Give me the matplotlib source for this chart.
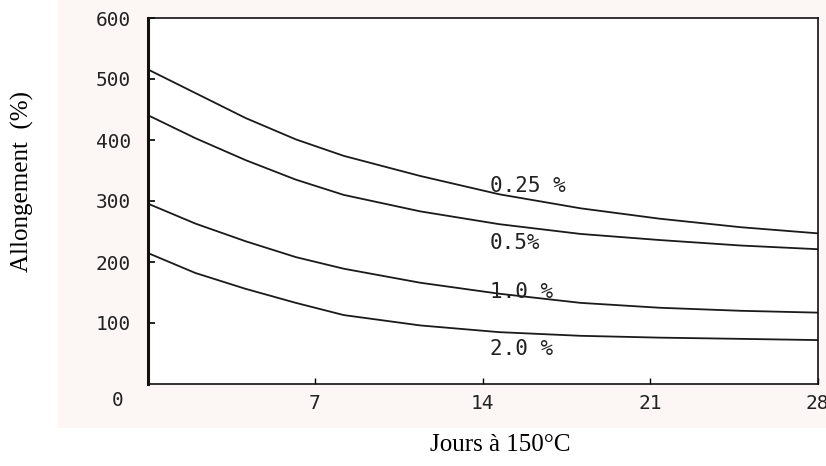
import matplotlib.pyplot as plt
from matplotlib.patches import Rectangle

# valeurs (jours à 150°C -> allongement %)
days = [0, 2.0, 4.1, 6.2, 8.2, 11.4, 14.7, 18.1, 21.4, 24.8, 28]
c025 = [516, 477, 436, 401, 374, 341, 311, 288, 271, 257, 247]
c05 = [441, 403, 367, 335, 310, 283, 262, 246, 236, 227, 221]
c10 = [296, 263, 234, 208, 189, 166, 148, 133, 125, 120, 117]
c20 = [215, 182, 156, 133, 113, 96, 85, 79, 76, 74, 72]

curve_labels = ['0.25 %', '0.5%', '1.0 %', '2.0 %']
label_x = [14.3, 14.3, 14.3, 14.3]
label_y = [325, 231, 151, 57]

x_ticks = [7, 14, 21, 28]
y_ticks = [100, 200, 300, 400, 500, 600]

mono = 'DejaVu Sans Mono'
serif = 'Liberation Serif'

fig = plt.figure(figsize=(8.26, 4.66), dpi=100)
fig.patches.append(Rectangle((58 / 826, 1 - 428 / 466), 1, 1, transform=fig.transFigure,
                             facecolor='#fcf7f5', edgecolor='none', zorder=-10))
ax = fig.add_axes([147.5 / 826, 1 - 384 / 466, (817.5 - 147.5) / 826, (384 - 18) / 466])
ax.set_zorder(1)
ax.set_facecolor('white')

for ys in [c025, c05, c10, c20]:
    ax.plot(days, ys, color='#1a1a1a', linewidth=1.3, solid_capstyle='round', solid_joinstyle='round')

for lab, lx, ly in zip(curve_labels, label_x, label_y):
    ax.text(lx, ly, lab, fontfamily=mono, fontsize=15, color='#222222', ha='left', va='center')

ax.set_xlim(0, 28)
ax.set_ylim(0, 600)
ax.set_xticks(x_ticks)
ax.set_xticklabels([str(t) for t in x_ticks], fontfamily=mono, fontsize=14, color='#222222')
ax.set_yticks(y_ticks)
ax.set_yticklabels([str(t) for t in y_ticks], fontfamily=mono, fontsize=14, color='#222222')
ax.tick_params(axis='x', direction='in', length=4, width=1, pad=7)
ax.tick_params(axis='y', direction='in', length=5, width=1.2, pad=12)

# le zéro commun dans le coin
ax.annotate('0', xy=(0, 0), xycoords='data', xytext=(-30, -16), textcoords='offset pixels',
            ha='center', va='center', fontfamily=mono, fontsize=14, color='#222222',
            annotation_clip=False)

ax.spines['left'].set_linewidth(2.2)
for side in ['top', 'right', 'bottom']:
    ax.spines[side].set_linewidth(1.2)
for sp in ax.spines.values():
    sp.set_color('#111111')

fig.text(22 / 826, 1 - 182 / 466, 'Allongement  (%)', rotation=90, ha='center', va='center',
         fontfamily=serif, fontsize=18)
fig.text(500 / 826, 1 - 445 / 466, 'Jours à 150°C', ha='center', va='center',
         fontfamily=serif, fontsize=18)

fig.savefig('out.png', dpi=100)
